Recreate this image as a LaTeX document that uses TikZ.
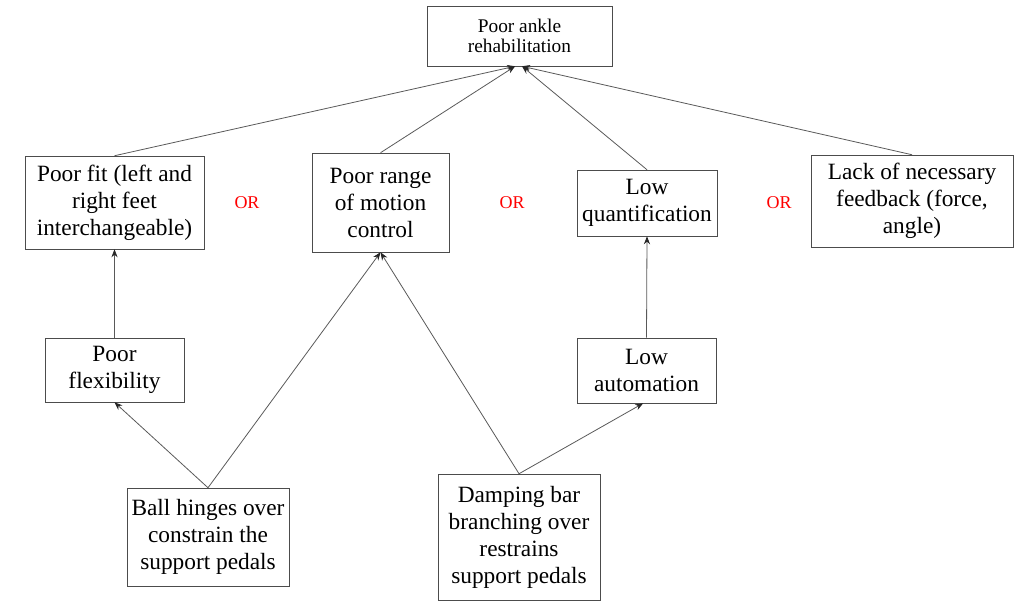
\documentclass[tikz,border=0pt]{standalone}
\usepackage{fontspec}
\setmainfont{Liberation Serif}
\usetikzlibrary{arrows.meta}

\begin{document}
\begin{tikzpicture}[x=0.75pt,y=-0.75pt,
    box/.style={draw=black!70,fill=white,align=center,inner sep=0pt,
      font=\fontsize{17.5}{20.25}\selectfont},
    small/.style={font=\fontsize{14.5}{15}\selectfont},
    orlabel/.style={text=red,font=\fontsize{13.5}{15}\selectfont},
    link/.style={draw=black!65,line width=0.6pt,-{Stealth[length=6pt,width=4.6pt,color=black!85]}}]

  \useasboundingbox (0,0) rectangle (1020,601);

  % top event
  \node[box,small,minimum width=138.75pt,minimum height=45pt] (top) at (519.5,36)
       {Poor ankle\\rehabilitation};
  \coordinate (inL) at ([xshift=-3.3pt]top.south);
  \coordinate (inR) at ([xshift=1.9pt]top.south);

  % second row
  \node[box,minimum width=134.25pt,minimum height=69.75pt] (fit) at (114.5,202.5)
       {Poor fit (left and\\right feet\\interchangeable)};
  \node[box,minimum width=102.75pt,minimum height=74.25pt] (range) at (380.5,202.5)
       {Poor range\\of motion\\control};
  \node[box,minimum width=105pt,minimum height=49.5pt] (quant) at (647,203)
       {Low\\quantification};
  \node[box,minimum width=151.5pt,minimum height=69pt] (lack) at (912,201)
       {Lack of necessary\\feedback (force,\\angle)};

  \node[orlabel] (or1) at (247,203) {OR};
  \node[orlabel] (or2) at (512,203) {OR};
  \node[orlabel] (or3) at (779,203) {OR};

  % third row
  \node[box,minimum width=104.25pt,minimum height=48pt] (flex) at (114.5,370)
       {Poor\\flexibility};
  \node[box,minimum width=104.25pt,minimum height=48.75pt] (auto) at (646.5,370.5)
       {Low\\automation};

  % basic causes
  \node[box,minimum width=121.5pt,minimum height=73.5pt] (ball) at (208,537)
       {Ball hinges over\\constrain the\\support pedals};
  \node[box,minimum width=121.5pt,minimum height=94.5pt] (damp) at (519,537)
       {Damping bar\\branching over\\restrains\\support pedals};

  \draw[link] (fit.north) -- (inL);
  \draw[link] (range.north) -- (inL);
  \draw[link] (quant.north) -- (inR);
  \draw[link] (lack.north) -- (inR);

  \draw[link] (flex.north) -- (fit.south);
  \draw[link] (auto.north) -- (quant.south);

  \draw[link] (ball.north) -- (flex.south);
  \draw[link] (ball.north) -- (range.south);
  \draw[link] (damp.north) -- (range.south);
  \draw[link] (damp.north) -- ([xshift=-2.5pt]auto.south);

\end{tikzpicture}
\end{document}
